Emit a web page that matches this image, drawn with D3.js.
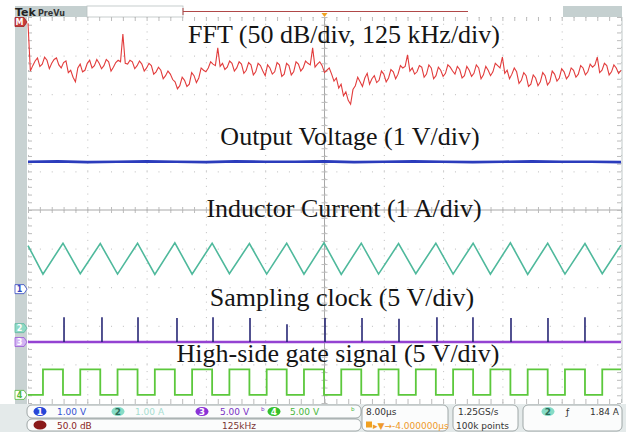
<!DOCTYPE html>
<html>
<head>
<meta charset="utf-8">
<script src="https://cdn.jsdelivr.net/npm/d3@7"></script>
<style>
  body { margin: 0; background: #fff; }
  svg { display: block; }
  .label { font-family: "Liberation Serif", "Times New Roman", serif; font-size: 26px; fill: #151515; }
  .stat { font-family: "DejaVu Sans", sans-serif; font-size: 9px; }
  .grid line { stroke: #bcbcbc; }
  .grid path { display: none; }
</style>
</head>
<body>
<svg id="scope" width="626" height="432"></svg>
<script>

// FFT (math) trace, one point every 5 kHz from 0 to 1250 kHz, dB (top of screen = 0 dB)
const fftStepKHz = 5;
const fftDb = [
  -8, -70, -63, -57, -53, -64, -61, -52, -56, -67, -60, -55, -53, -62, -66, -59, -57, -72, -69, -78,
  -84, -66, -61, -71, -69, -60, -56, -66, -63, -55, -60, -67, -63, -55, -58, -70, -65, -59, -56, -58,
  -22, -60, -61, -56, -58, -67, -63, -57, -61, -70, -66, -60, -63, -74, -71, -65, -69, -80, -76, -70,
  -74, -81, -84, -93, -89, -78, -82, -90, -87, -72, -76, -85, -79, -66, -69, -71, -66, -58, -61, -63,
  -40, -64, -60, -68, -65, -57, -60, -70, -66, -58, -61, -73, -69, -59, -62, -75, -71, -60, -63, -70,
  -76, -62, -66, -74, -71, -59, -62, -77, -74, -60, -63, -75, -71, -58, -61, -70, -66, -57, -60, -62,
  -40, -65, -61, -58, -63, -72, -69, -66, -74, -83, -79, -92, -87, -102, -97, -108, -113, -94, -89, -78,
  -84, -90, -79, -73, -87, -80, -76, -85, -82, -70, -74, -84, -79, -68, -71, -80, -74, -63, -66, -64,
  -49, -70, -66, -74, -71, -63, -65, -78, -74, -62, -66, -80, -76, -65, -69, -77, -73, -62, -65, -70,
  -74, -64, -68, -79, -76, -64, -69, -77, -73, -62, -66, -80, -75, -64, -69, -76, -71, -60, -63, -66,
  -52, -73, -69, -80, -74, -66, -71, -86, -82, -72, -76, -90, -87, -75, -79, -89, -84, -72, -76, -88,
  -84, -70, -74, -83, -79, -67, -71, -80, -76, -66, -69, -78, -74, -63, -66, -75, -71, -61, -65, -62,
  -52, -72, -69, -60, -63, -75, -71, -62, -66, -73, -69
];

// output voltage (ch1), a sample every 4 us
const voutStepUs = 4;
const voutV = [3.30, 3.31, 3.29, 3.30, 3.31, 3.30, 3.29, 3.31, 3.30, 3.30, 3.31,
               3.29, 3.30, 3.31, 3.30, 3.29, 3.30, 3.31, 3.30, 3.30, 3.29];

// inductor current (ch2): corner points of the triangle
const currentT = [0, 2.02, 4.72, 7.05, 9.75, 12.08, 14.78, 17.11, 19.81, 22.14, 24.84,
                  27.17, 29.87, 32.20, 34.90, 37.23, 39.93, 42.26, 44.96, 47.29, 49.99,
                  52.32, 55.02, 57.35, 60.05, 62.38, 65.08, 67.41, 70.11, 72.44, 75.14,
                  77.47, 80];
const currentA = [2.14, 1.40, 2.20, 1.41, 2.19, 1.40, 2.20, 1.39, 2.21, 1.40, 2.20,
                  1.41, 2.19, 1.40, 2.20, 1.40, 2.21, 1.39, 2.20, 1.40, 2.19,
                  1.41, 2.20, 1.40, 2.20, 1.40, 2.21, 1.39, 2.20, 1.40, 2.19,
                  1.41, 2.15];

// sampling clock (ch3): pulse times (us) and pulse heights (V)
const clockT = [4.86, 9.98, 14.84, 20.10, 24.96, 29.95, 34.94, 40.07, 45.06, 50.05,
                55.17, 60.03, 65.16, 70.15, 75.14];
const clockV = [3.2, 3.2, 3.2, 3.1, 3.2, 3.1, 2.3, 3.1, 3.1, 3.0, 3.2, 3.2, 3.1, 3.1, 3.2];

// high-side gate (ch4): level after each edge
const gateT = [0, 2.02, 4.72, 7.05, 9.75, 12.08, 14.78, 17.11, 19.81, 22.14, 24.84,
               27.17, 29.87, 32.20, 34.90, 37.23, 39.93, 42.26, 44.96, 47.29, 49.99,
               52.32, 55.02, 57.35, 60.05, 62.38, 65.08, 67.41, 70.11, 72.44, 75.14,
               77.47, 80];
const gateV = [0, 3.3, 0, 3.3, 0, 3.3, 0, 3.3, 0, 3.3, 0,
               3.3, 0, 3.3, 0, 3.3, 0, 3.3, 0, 3.3, 0,
               3.3, 0, 3.3, 0, 3.3, 0, 3.3, 0, 3.3, 0,
               3.3, 3.3];

const traceLabels = ['FFT (50 dB/div, 125 kHz/div)', 'Output Voltage (1 V/div)',
  'Inductor Current (1 A/div)', 'Sampling clock (5 V/div)', 'High-side gate signal (5 V/div)'];

// ---- layout ----
const svg = d3.select('#scope');
const L = 28, R = 621, T = 17, B = 403;
const divH = (B - T) / 10;

const divX = d3.scaleLinear().domain([0, 10]).range([L, R]);
const divY = d3.scaleLinear().domain([-5, 5]).range([B, T]);
const tX = d3.scaleLinear().domain([0, 80]).range([L, R]);       // 8 us/div
const fX = d3.scaleLinear().domain([0, 1250]).range([L, R]);     // 125 kHz/div
const fftY = d3.scaleLinear().domain([-500, 0]).range([B, T]);   // 50 dB/div

// channel ground positions in divisions from centre, and volts per division
function chanScale(pos, perDiv) {
  return d3.scaleLinear().domain([(-5 - pos) * perDiv, (5 - pos) * perDiv]).range([B, T]);
}
const y1 = chanScale(-2.05, 1);
const y2 = chanScale(-3.06, 1);
const y3 = chanScale(-3.42, 5);
const y4 = chanScale(-4.79, 5);

// left strip and top record bar
svg.append('rect').attr('x', 15).attr('y', T).attr('width', 12).attr('height', B - T + 1).attr('fill', '#c8d2d2');
svg.append('rect').attr('x', 15).attr('y', 6).attr('width', 72).attr('height', 11).attr('fill', '#c5d0d0');
svg.append('rect').attr('x', 87).attr('y', 6).attr('width', 96).attr('height', 11)
  .attr('fill', '#fff').attr('stroke', '#b8c0c0').attr('stroke-width', 0.8);
svg.append('line').attr('x1', 183).attr('x2', 468).attr('y1', 11.5).attr('y2', 11.5)
  .attr('stroke', '#b04848').attr('stroke-width', 1.2);
svg.append('line').attr('x1', 183).attr('x2', 183).attr('y1', 8).attr('y2', 15)
  .attr('stroke', '#b04848').attr('stroke-width', 1);
svg.append('rect').attr('x', 563).attr('y', 6).attr('width', 59).attr('height', 11).attr('fill', '#c5d0d0');
svg.append('text').attr('x', 15).attr('y', 16).text('Tek')
  .attr('font-family', 'DejaVu Sans').attr('font-weight', 'bold').attr('font-size', 11).attr('fill', '#222');
svg.append('text').attr('x', 38).attr('y', 15.5).text('PreVu')
  .attr('font-family', 'DejaVu Sans').attr('font-weight', 'bold').attr('font-size', 8).attr('fill', '#333');
svg.append('path').attr('d', `M${divX(5) - 3},${T - 4}L${divX(5) + 3},${T - 4}L${divX(5)},${T}Z`).attr('fill', '#f0a020');

// ---- graticule ----
const gridX = svg.append('g').attr('class', 'grid').attr('transform', `translate(0,${B})`)
  .call(d3.axisBottom(divX).ticks(10).tickSize(-(B - T)).tickFormat(''));
gridX.selectAll('line').attr('stroke-dasharray', `1,${divH / 5 - 1}`);

const gridY = svg.append('g').attr('class', 'grid').attr('transform', `translate(${L},0)`)
  .call(d3.axisLeft(divY).ticks(10).tickSize(-(R - L)).tickFormat(''));
gridY.selectAll('line').attr('stroke-dasharray', `1,${(R - L) / 50 - 1}`);

const minorX = d3.range(0, 10.001, 0.2);
const minorY = d3.range(-5, 5.001, 0.2);

// centre crosshair with minor ticks
svg.append('line').attr('x1', L).attr('x2', R).attr('y1', divY(0)).attr('y2', divY(0)).attr('stroke', '#a8a8a8');
svg.append('line').attr('x1', divX(5)).attr('x2', divX(5)).attr('y1', T).attr('y2', B).attr('stroke', '#a8a8a8');
svg.append('g').attr('class', 'grid').attr('transform', `translate(0,${divY(0)})`)
  .call(d3.axisBottom(divX).tickValues(minorX).tickSize(3).tickFormat(''))
  .selectAll('line').attr('y1', -3);
svg.append('g').attr('class', 'grid').attr('transform', `translate(${divX(5)},0)`)
  .call(d3.axisLeft(divY).tickValues(minorY).tickSize(3).tickFormat(''))
  .selectAll('line').attr('x1', 3);

// edge ticks
svg.append('g').attr('class', 'grid').attr('transform', `translate(0,${B})`)
  .call(d3.axisTop(divX).tickValues(minorX).tickSize(4).tickFormat(''));
svg.append('g').attr('class', 'grid').attr('transform', `translate(0,${T})`)
  .call(d3.axisBottom(divX).tickValues(minorX).tickSize(4).tickFormat(''));
svg.append('g').attr('class', 'grid').attr('transform', `translate(${L},0)`)
  .call(d3.axisRight(divY).tickValues(minorY).tickSize(4).tickFormat(''));
svg.append('g').attr('class', 'grid').attr('transform', `translate(${R},0)`)
  .call(d3.axisLeft(divY).tickValues(minorY).tickSize(4).tickFormat(''));
svg.append('line').attr('x1', R + 1).attr('x2', R + 1).attr('y1', T).attr('y2', B).attr('stroke', '#c0c8c8');

// ---- traces ----
const plot = svg.append('g');

plot.append('path')
  .datum(fftDb)
  .attr('fill', 'none').attr('stroke', '#e23c3c').attr('stroke-width', 1.1)
  .attr('d', d3.line().x((d, i) => fX(i * fftStepKHz)).y(d => fftY(d)));

plot.append('path')
  .datum(voutV)
  .attr('fill', 'none').attr('stroke', '#2b3cbc').attr('stroke-width', 2.6)
  .attr('d', d3.line().x((d, i) => tX(i * voutStepUs)).y(d => y1(d)));

plot.append('path')
  .datum(d3.zip(currentT, currentA))
  .attr('fill', 'none').attr('stroke', '#4fb99c').attr('stroke-width', 1.6)
  .attr('d', d3.line().x(d => tX(d[0])).y(d => y2(d[1])));

plot.append('line')
  .attr('x1', tX(0)).attr('x2', tX(80)).attr('y1', y3(0)).attr('y2', y3(0))
  .attr('stroke', '#9442d2').attr('stroke-width', 2.4);
plot.selectAll('.pulse')
  .data(d3.zip(clockT, clockV))
  .enter().append('line')
  .attr('class', 'pulse')
  .attr('x1', d => tX(d[0])).attr('x2', d => tX(d[0]))
  .attr('y1', y3(0)).attr('y2', d => y3(d[1]))
  .attr('stroke', '#272775').attr('stroke-width', 1.6);

plot.append('path')
  .datum(d3.zip(gateT, gateV))
  .attr('fill', 'none').attr('stroke', '#5cc83c').attr('stroke-width', 1.8)
  .attr('d', d3.line().curve(d3.curveStepAfter).x(d => tX(d[0])).y(d => y4(d[1])));

// ---- channel markers on the left strip ----
function marker(y, fill, stroke, txt, txtFill) {
  const g = svg.append('g').attr('transform', `translate(15,${y})`);
  g.append('path').attr('d', 'M0,-4.5H9L12,0L9,4.5H0Z')
    .attr('fill', fill).attr('stroke', stroke).attr('stroke-width', 0.8);
  g.append('text').attr('x', 4.5).attr('y', 3.2).attr('text-anchor', 'middle')
    .attr('font-family', 'DejaVu Sans').attr('font-weight', 'bold').attr('font-size', 8)
    .attr('fill', txtFill).text(txt);
}
marker(22, '#c63a3a', '#a02020', 'M', '#fff');
marker(y1(0), '#fff', '#3246c0', '1', '#3246c0');
marker(y2(0), '#8fdac6', '#60b8a0', '2', '#fff');
marker(y3(0), '#d2b4f2', '#9a5ad6', '3', '#fff');
marker(y4(0), '#fff', '#50b83a', '4', '#50b83a');

// ---- trace titles ----
const labelPos = [[344, 43], [350, 145], [344, 217], [342, 306], [338, 362]];
svg.selectAll('.label')
  .data(traceLabels)
  .enter().append('text')
  .attr('class', 'label')
  .attr('text-anchor', 'middle')
  .attr('x', (d, i) => labelPos[i][0]).attr('y', (d, i) => labelPos[i][1])
  .text(d => d);

// ---- status bar ----
const sb = svg.append('g');
sb.append('rect').attr('x', 0).attr('y', B + 1).attr('width', 626).attr('height', 432 - B).attr('fill', '#e4eaea');
function box(x, y, w, h) {
  sb.append('rect').attr('x', x).attr('y', y).attr('width', w).attr('height', h).attr('rx', 5)
    .attr('fill', '#fbfcfc').attr('stroke', '#8a9494').attr('stroke-width', 0.8);
}
box(27, 405, 334, 13);
box(27, 419, 334, 12);
box(362, 405, 86, 26);
box(453, 405, 65, 26);
box(523, 405, 99, 26);

function badge(x, y, fill, txt, txtFill) {
  sb.append('ellipse').attr('cx', x).attr('cy', y).attr('rx', 6.5).attr('ry', 4.5).attr('fill', fill);
  sb.append('text').attr('class', 'stat').attr('x', x).attr('y', y + 3).attr('text-anchor', 'middle')
    .attr('font-size', 7).attr('font-weight', 'bold').attr('fill', txtFill).text(txt);
}
function stat(x, y, txt, color, anchor) {
  sb.append('text').attr('class', 'stat').attr('x', x).attr('y', y)
    .attr('text-anchor', anchor || 'start').attr('fill', color).text(txt);
}
badge(40, 411.5, '#2746d8', '1', '#fff');
stat(57, 415, '1.00 V', '#3552d2');
badge(118, 411.5, '#86dcc6', '2', '#2a6a5a');
stat(135, 415, '1.00 A', '#a6ddd0');
badge(202, 411.5, '#8a32d6', '3', '#fff');
stat(220, 415, '5.00 V', '#7a32c4');
stat(261, 414, 'ᵇ', '#7a32c4');
badge(274, 411.5, '#34c02c', '4', '#fff');
stat(290, 415, '5.00 V', '#48b63a');
stat(351, 414, 'ᵇ', '#48b63a');
badge(40, 425, '#8a1a1a', '', '#fff');
stat(57, 428.5, '50.0 dB', '#8a2424');
stat(222, 428.5, '125kHz', '#7a3434');

stat(366, 415, '8.00µs', '#333');
sb.append('rect').attr('x', 366).attr('y', 421.5).attr('width', 6).attr('height', 6).attr('fill', '#f0a020');
stat(373, 428.5, '▸▼→-4.000000µs', '#ee9a2a');
stat(458, 415, '1.25GS/s', '#333');
stat(456, 428.5, '100k points', '#333');
badge(548, 411.5, '#86dcc6', '2', '#2a6a5a');
stat(566, 415, 'ƒ', '#333');
stat(619, 415, '1.84 A', '#333', 'end');
</script>
</body>
</html>
